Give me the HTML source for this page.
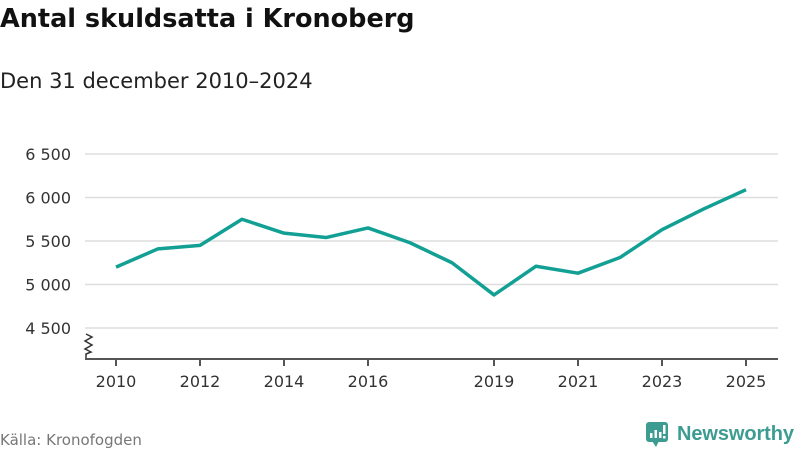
<!DOCTYPE html>
<html><head><meta charset="utf-8"><style>
body{margin:0;width:800px;height:450px;background:#fff;overflow:hidden;font-family:"DejaVu Sans","Liberation Sans",sans-serif;}
</style></head><body>
<svg width="800" height="450" xmlns="http://www.w3.org/2000/svg">
<text x="0" y="27" font-size="25.5" font-weight="bold" fill="#111">Antal skuldsatta i Kronoberg</text>
<text x="0" y="88" font-size="21" fill="#222">Den 31 december 2010–2024</text>
<g id="grid"></g>
<g id="yl"></g>
<path d="M86 334 l6 3 l-7 4 l7 4 l-7 4 l6 3 l-5 2 l0 5" fill="none" stroke="#333" stroke-width="1.5"/>
<line x1="85" y1="359" x2="778" y2="359" stroke="#555" stroke-width="2"/>
<g id="xl"></g>
<path id="line" fill="none" stroke="#12a095" stroke-width="3.5" stroke-linejoin="round"/>
<text x="0" y="445" font-size="15" fill="#777">Källa: Kronofogden</text>
<g>
<rect x="646" y="422" width="22" height="20" rx="3" fill="#3d9c91"/>
<path d="M652 441 l4 6 l3 -6z" fill="#3d9c91"/>
<rect x="650" y="433" width="2.5" height="5" fill="#fff"/><rect x="654.5" y="430" width="2.5" height="8" fill="#fff"/><rect x="659" y="432" width="2.5" height="6" fill="#fff"/><rect x="663" y="425" width="2.5" height="9" fill="#fff"/><rect x="663" y="436" width="2.5" height="2.5" fill="#fff"/>
<text x="677" y="440" font-size="20" font-weight="bold" fill="#3d9c91" font-family="Liberation Sans, sans-serif" textLength="117">Newsworthy</text>
</g>
</svg>
<script>
const years=[2010,2011,2012,2013,2014,2015,2016,2017,2018,2019,2020,2021,2022,2023,2024,2025];
const values=[5200,5410,5450,5750,5590,5540,5650,5480,5250,4880,5210,5130,5310,5630,5870,6090];
const yTicks=[4500,5000,5500,6000,6500];
const yTickLabels=["4 500","5 000","5 500","6 000","6 500"];
const xTicks=[2010,2012,2014,2016,2019,2021,2023,2025];
const ns="http://www.w3.org/2000/svg";
const x=v=>116+(v-2010)*42;
const y=v=>328-(v-4500)*(174/2000);
const grid=document.getElementById('grid'),yl=document.getElementById('yl'),xl=document.getElementById('xl');
yTicks.forEach((t,i)=>{
 const l=document.createElementNS(ns,'line');
 l.setAttribute('x1',85);l.setAttribute('x2',778);l.setAttribute('y1',y(t));l.setAttribute('y2',y(t));
 l.setAttribute('stroke','#ddd');l.setAttribute('stroke-width','1.5');
 
 
 grid.appendChild(l);
 const tx=document.createElementNS(ns,'text');
 tx.setAttribute('x',71);tx.setAttribute('y',y(t)+6);tx.setAttribute('text-anchor','end');
 tx.setAttribute('font-size','16');tx.setAttribute('fill','#333');tx.textContent=yTickLabels[i];
 
 
 yl.appendChild(tx);
});
xTicks.forEach(t=>{
 const l=document.createElementNS(ns,'line');
 l.setAttribute('x1',x(t));l.setAttribute('x2',x(t));l.setAttribute('y1',359);l.setAttribute('y2',366);
 l.setAttribute('stroke','#555');l.setAttribute('stroke-width','2');
 
 
 xl.appendChild(l);
 const tx=document.createElementNS(ns,'text');
 tx.setAttribute('x',x(t));tx.setAttribute('y',387);tx.setAttribute('text-anchor','middle');
 tx.setAttribute('font-size','16');tx.setAttribute('fill','#333');tx.textContent=t;
 
 
 xl.appendChild(tx);
});
document.getElementById('line').setAttribute('d',values.map((v,i)=>(i?'L':'M')+x(years[i])+' '+y(v)).join(' '));
</script>
</body></html>
